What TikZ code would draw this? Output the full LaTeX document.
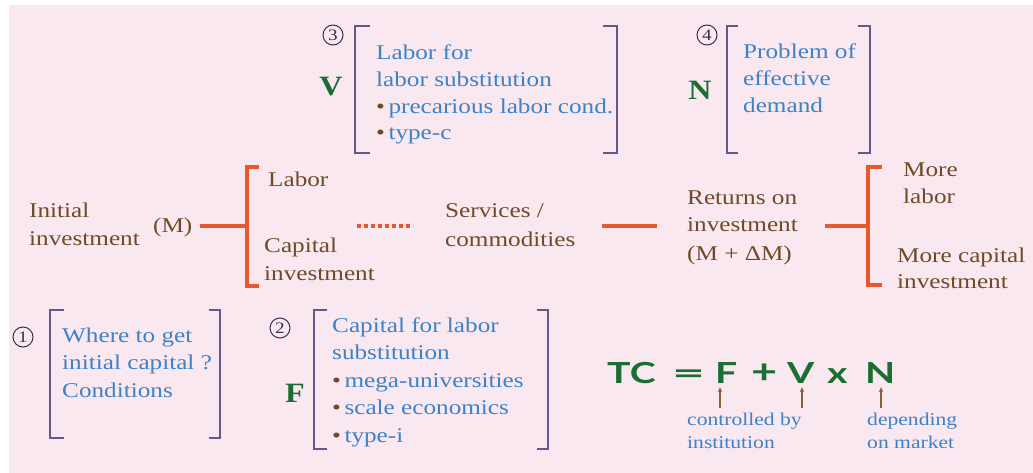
\documentclass[tikz,border=0pt]{standalone}
\usepackage{fontspec}
\setmainfont{Liberation Serif}[FakeStretch=1.2]
\newfontfamily\bigserif{Liberation Serif}[FakeStretch=1.15]
\newfontfamily\formfont{Lato}[FakeStretch=1.35]
\usetikzlibrary{arrows.meta}
\definecolor{bgpink}{RGB}{250,232,240}
\definecolor{tbrown}{RGB}{110,75,40}
\definecolor{tblue}{RGB}{60,130,200}
\definecolor{tgreen}{RGB}{27,110,50}
\definecolor{bpurple}{RGB}{105,88,135}
\definecolor{npurple}{RGB}{60,45,80}
\definecolor{orng}{RGB}{232,88,42}
\definecolor{abrown}{RGB}{140,95,60}
\newcommand{\bul}{{\color{tbrown}\textbullet}\,}
\begin{document}
\begin{tikzpicture}[x=1pt,y=-1pt,
  txt/.style={inner sep=0pt, anchor=base west, align=left, font=\fontsize{21}{27.5}\selectfont},
  brn/.style={txt, text=tbrown},
  blu/.style={txt, text=tblue},
  big/.style={inner sep=0pt, anchor=base, font=\bigserif\bfseries\fontsize{28}{28}\selectfont, text=tgreen},
  num/.style={circle, draw=npurple, line width=1pt, inner sep=0pt, minimum size=20pt, font=\fontsize{16}{16}\selectfont, text=npurple},
  pbr/.style={draw=bpurple, line width=2pt},
  obr/.style={draw=orng, line width=4pt},
  odot/.style={draw=orng, line width=4pt, dash pattern=on 4pt off 3pt},
  frm/.style={inner sep=0pt, anchor=base west, font=\formfont\bfseries\fontsize{29}{29}\selectfont, text=tgreen},
  small/.style={inner sep=0pt, anchor=base west, align=left, font=\fontsize{18}{23}\selectfont, text=tblue},
  arr/.style={draw=abrown, line width=1.2pt, -{Stealth[length=5pt,width=4.5pt]}}
]
\fill[white] (0,0) rectangle (1033,473);
\fill[bgpink] (9,5) rectangle (1033,473);
\useasboundingbox (0,0) rectangle (1033,473);

% ---- box 3 (V)
\node[num] (n3) at (333,35) {3};
\node[big] (V) at (331,96) {V};
\draw[pbr] (370,26) -- (355,26) -- (355,153) -- (370,153);
\draw[pbr] (603,26) -- (617,26) -- (617,153) -- (603,153);
\node[blu, font=\fontsize{21}{26.7}\selectfont] (vt) at (376,140) {Labor for\\labor substitution\\\bul precarious labor cond.\\\bul type-c};

% ---- box 4 (N)
\node[num] (n4) at (707,35) {4};
\node[big] (N) at (700,100) {N};
\draw[pbr] (738,26) -- (727,26) -- (727,153) -- (738,153);
\draw[pbr] (858,26) -- (870,26) -- (870,153) -- (858,153);
\node[blu, font=\fontsize{21}{27}\selectfont] (nt) at (743,113) {Problem of\\effective\\demand};

% ---- middle row
\node[brn, font=\fontsize{21}{28}\selectfont] (ini) at (29,245) {Initial\\investment};
\node[brn] (M) at (153,233) {(M)};
\coordinate (b1) at (247,226);
\coordinate (m1) at (200,226);
\draw[obr] (m1) -- (b1);
\draw[obr] (259,167) -- (247,167) -- (247,286) -- (259,286);
\node[brn] (lab) at (268,187) {Labor};
\node[brn, font=\fontsize{21}{28}\selectfont] (cap) at (264,280) {Capital\\investment};
\coordinate (dA) at (357,226);
\coordinate (dB) at (413,226);
\draw[odot] (dA) -- (dB);
\node[brn, font=\fontsize{21}{29}\selectfont] (svc) at (445,247) {Services /\\commodities};
\coordinate (sA) at (602,226);
\coordinate (sB) at (657,226);
\draw[obr] (sA) -- (sB);
\node[brn, font=\fontsize{21}{28}\selectfont] (ret) at (687,260) {Returns on\\investment\\(M + ΔM)};
\coordinate (rA) at (825,226);
\coordinate (b2) at (868,226);
\draw[obr] (rA) -- (b2);
\draw[obr] (882,167) -- (868,167) -- (868,285) -- (882,285);
\node[brn, font=\fontsize{21}{27}\selectfont] (ml) at (903,204) {More\\labor};
\node[brn, font=\fontsize{21}{26}\selectfont] (mc) at (897,288) {More capital\\investment};

% ---- box 1
\node[num] (n1) at (23,337) {1};
\draw[pbr] (64,310) -- (50,310) -- (50,438) -- (64,438);
\draw[pbr] (209,310) -- (220,310) -- (220,438) -- (209,438);
\node[blu] (w) at (62,397) {Where to get\\initial capital ?\\Conditions};

% ---- box 2 (F)
\node[num] (n2) at (280,328) {2};
\node[big] (F) at (295,402) {F};
\draw[pbr] (327,310) -- (314,310) -- (314,449) -- (327,449);
\draw[pbr] (537,310) -- (548,310) -- (548,449) -- (537,449);
\node[blu] (ct) at (332,442) {Capital for labor\\substitution\\\bul mega-universities\\\bul scale economics\\\bul type-i};

% ---- formula
\node[frm] (tc) at (607,383) {TC};
\node[frm] (eq) at (672,383) {\scalebox{1.45}[1]{=}};
\node[frm] (fF) at (715,383) {F};
\node[frm] (pl) at (751,383) {\scalebox{1.15}{+}};
\node[frm] (fV) at (787,383) {V};
\node[frm] (tm) at (827,383) {x};
\node[frm] (fN) at (865,383) {N};
\coordinate (t1) at (720,408);
\coordinate (t2) at (802,408);
\coordinate (t3) at (881,408);
\draw[arr, shorten >=4pt] (t1) -- (t1 |- fF.south);
\draw[arr, shorten >=4pt] (t2) -- (t2 |- fV.south);
\draw[arr, shorten >=4pt] (t3) -- (t3 |- fN.south);
\node[small] (ctl) at (687,448) {controlled by\\institution};
\node[small] (dep) at (867,448) {depending\\on market};
\end{tikzpicture}
\end{document}
